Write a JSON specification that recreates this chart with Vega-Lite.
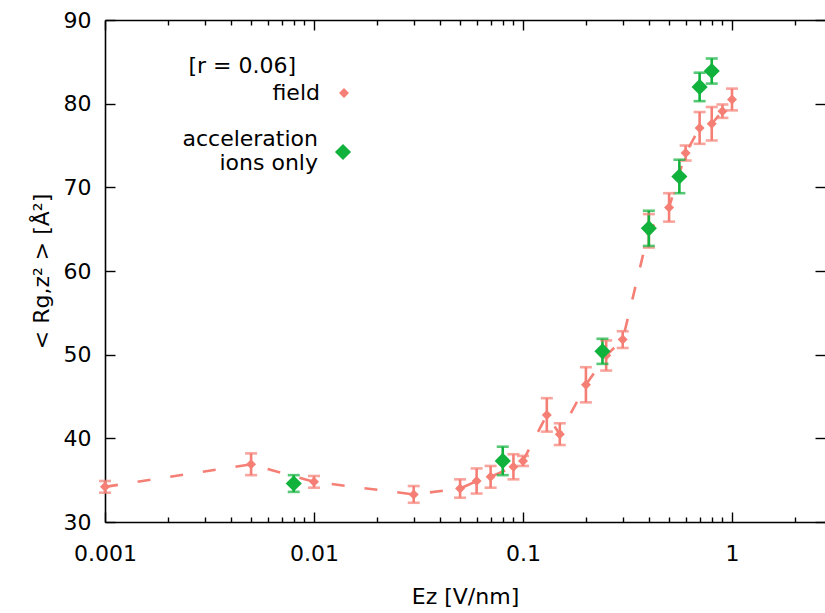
{
  "$schema": "https://vega.github.io/schema/vega-lite/v6.json",
  "width": 720,
  "height": 502,
  "autosize": "none",
  "padding": {"left": 105, "top": 20, "right": 0, "bottom": 91},
  "background": "white",
  "config": {
    "view": {"stroke": null},
    "font": "DejaVu Sans",
    "axis": {"labelFont": "DejaVu Sans", "titleFont": "DejaVu Sans", "labelFontSize": 22, "titleFontSize": 22, "titleFontWeight": "normal", "labelColor": "black", "titleColor": "black", "domainColor": "black", "tickColor": "black", "domainWidth": 1.6, "tickWidth": 1.4, "grid": false},
    "legend": {"labelFont": "DejaVu Sans", "titleFont": "DejaVu Sans", "padding": 0, "labelFontSize": 22, "titleFontSize": 22, "titleFontWeight": "normal", "labelColor": "black", "titleColor": "black", "symbolOpacity": 1, "symbolStrokeWidth": 0, "labelLimit": 0, "labelAlign": "right", "symbolType": "diamond"}
  },
  "data": {"values": [
    {"x": 0.001, "y": 34.2, "lo": 33.5, "hi": 34.9, "series": "field"},
    {"x": 0.005, "y": 36.9, "lo": 35.6, "hi": 38.2, "series": "field"},
    {"x": 0.01, "y": 34.8, "lo": 34.1, "hi": 35.5, "series": "field"},
    {"x": 0.03, "y": 33.3, "lo": 32.3, "hi": 34.3, "series": "field"},
    {"x": 0.05, "y": 34.0, "lo": 32.9, "hi": 35.1, "series": "field"},
    {"x": 0.06, "y": 34.9, "lo": 33.4, "hi": 36.4, "series": "field"},
    {"x": 0.07, "y": 35.4, "lo": 34.1, "hi": 36.7, "series": "field"},
    {"x": 0.09, "y": 36.6, "lo": 35.1, "hi": 38.1, "series": "field"},
    {"x": 0.1, "y": 37.3, "lo": 36.7, "hi": 37.9, "series": "field"},
    {"x": 0.13, "y": 42.8, "lo": 40.8, "hi": 44.8, "series": "field"},
    {"x": 0.15, "y": 40.5, "lo": 39.2, "hi": 41.8, "series": "field"},
    {"x": 0.2, "y": 46.4, "lo": 44.3, "hi": 48.5, "series": "field"},
    {"x": 0.25, "y": 49.9, "lo": 48.1, "hi": 51.7, "series": "field"},
    {"x": 0.3, "y": 51.8, "lo": 50.8, "hi": 52.8, "series": "field"},
    {"x": 0.4, "y": 64.8, "lo": 62.8, "hi": 66.8, "series": "field"},
    {"x": 0.5, "y": 67.6, "lo": 65.9, "hi": 69.3, "series": "field"},
    {"x": 0.6, "y": 74.1, "lo": 73.2, "hi": 75.0, "series": "field"},
    {"x": 0.7, "y": 77.1, "lo": 75.2, "hi": 79.0, "series": "field"},
    {"x": 0.8, "y": 77.6, "lo": 75.6, "hi": 79.6, "series": "field"},
    {"x": 0.9, "y": 79.1, "lo": 78.3, "hi": 79.9, "series": "field"},
    {"x": 1.0, "y": 80.5, "lo": 79.2, "hi": 81.8, "series": "field"},
    {"x": 0.008, "y": 34.6, "lo": 33.6, "hi": 35.6, "series": "acceleration ions only"},
    {"x": 0.08, "y": 37.3, "lo": 35.6, "hi": 39.0, "series": "acceleration ions only"},
    {"x": 0.24, "y": 50.4, "lo": 48.9, "hi": 51.9, "series": "acceleration ions only"},
    {"x": 0.4, "y": 65.1, "lo": 63.0, "hi": 67.2, "series": "acceleration ions only"},
    {"x": 0.56, "y": 71.3, "lo": 69.3, "hi": 73.3, "series": "acceleration ions only"},
    {"x": 0.7, "y": 82.0, "lo": 80.3, "hi": 83.7, "series": "acceleration ions only"},
    {"x": 0.8, "y": 83.9, "lo": 82.4, "hi": 85.4, "series": "acceleration ions only"}
  ]},
  "resolve": {"axis": {"x": "independent", "y": "independent"}, "scale": {"color": "independent"}, "legend": {"color": "independent"}},
  "layer": [
    {
      "transform": [{"filter": "datum.series == 'field'"}],
      "mark": {"type": "line", "color": "#f57f75", "strokeWidth": 2.6, "strokeDash": [13, 20]},
      "encoding": {
        "x": {"field": "x", "type": "quantitative",
          "scale": {"type": "log", "domain": [0.001, 2.786], "nice": false},
          "axis": {"orient": "bottom", "title": "Ez [V/nm]", "titlePadding": 17,
            "values": [0.001, 0.002, 0.003, 0.004, 0.005, 0.006, 0.007, 0.008, 0.009, 0.01, 0.02, 0.03, 0.04, 0.05, 0.06, 0.07, 0.08, 0.09, 0.1, 0.2, 0.3, 0.4, 0.5, 0.6, 0.7, 0.8, 0.9, 1, 2],
            "labelExpr": "abs(log(datum.value)/LN10 - round(log(datum.value)/LN10)) < 1e-6 ? format(datum.value, '~g') : ''",
            "tickSize": {"condition": {"test": "abs(log(datum.value)/LN10 - round(log(datum.value)/LN10)) < 1e-6", "value": -10}, "value": -5},
            "labelPadding": 31, "labelFlush": false, "labelOverlap": false}},
        "y": {"field": "y", "type": "quantitative",
          "scale": {"domain": [30, 90], "nice": false, "zero": false},
          "axis": {"orient": "left", "title": "< Rg,z² > [Å²]", "values": [30, 40, 50, 60, 70, 80, 90], "tickSize": -10, "labelPadding": 24, "titlePadding": 10}}
      }
    },
    {
      "mark": {"type": "rule", "strokeWidth": 2.6},
      "encoding": {
        "x": {"field": "x", "type": "quantitative",
          "axis": {"orient": "top", "title": null, "labels": false,
            "values": [0.001, 0.002, 0.003, 0.004, 0.005, 0.006, 0.007, 0.008, 0.009, 0.01, 0.02, 0.03, 0.04, 0.05, 0.06, 0.07, 0.08, 0.09, 0.1, 0.2, 0.3, 0.4, 0.5, 0.6, 0.7, 0.8, 0.9, 1, 2],
            "tickSize": {"condition": {"test": "abs(log(datum.value)/LN10 - round(log(datum.value)/LN10)) < 1e-6", "value": -10}, "value": -5}}},
        "y": {"field": "lo", "type": "quantitative",
          "axis": {"orient": "right", "title": null, "labels": false, "domain": false, "values": [30, 40, 50, 60, 70, 80, 90], "tickSize": -10}},
        "y2": {"field": "hi"},
        "color": {"field": "series", "type": "nominal", "legend": null,
          "scale": {"domain": ["field", "acceleration ions only"], "range": ["#f57f75", "#10b23c"]}}
      }
    },
    {
      "mark": {"type": "tick", "orient": "horizontal", "size": 12, "thickness": 2.6},
      "encoding": {
        "x": {"field": "x", "type": "quantitative", "axis": null},
        "y": {"field": "lo", "type": "quantitative", "axis": null},
        "color": {"field": "series", "type": "nominal", "legend": null,
          "scale": {"domain": ["field", "acceleration ions only"], "range": ["#f57f75", "#10b23c"]}}
      }
    },
    {
      "mark": {"type": "tick", "orient": "horizontal", "size": 12, "thickness": 2.6},
      "encoding": {
        "x": {"field": "x", "type": "quantitative", "axis": null},
        "y": {"field": "hi", "type": "quantitative", "axis": null},
        "color": {"field": "series", "type": "nominal", "legend": null,
          "scale": {"domain": ["field", "acceleration ions only"], "range": ["#f57f75", "#10b23c"]}}
      }
    },
    {
      "transform": [{"filter": "datum.series == 'field'"}],
      "mark": {"type": "point", "shape": "diamond", "filled": true, "opacity": 1, "size": 100},
      "encoding": {
        "x": {"field": "x", "type": "quantitative", "axis": null},
        "y": {"field": "y", "type": "quantitative", "axis": null},
        "color": {"field": "series", "type": "nominal",
          "scale": {"domain": ["field"], "range": ["#f57f75"]},
          "legend": {"title": "[r = 0.06]", "orient": "none", "legendX": 83, "legendY": 36,
            "labelOffset": -35, "symbolOffset": 37, "symbolSize": 100, "titleAnchor": "start", "titleAlign": "right", "titlePadding": 4}}
      }
    },
    {
      "transform": [{"filter": "datum.series != 'field'"}],
      "mark": {"type": "point", "shape": "diamond", "filled": true, "opacity": 1, "size": 260},
      "encoding": {
        "x": {"field": "x", "type": "quantitative", "axis": null},
        "y": {"field": "y", "type": "quantitative", "axis": null},
        "color": {"field": "series", "type": "nominal",
          "scale": {"domain": ["acceleration ions only"], "range": ["#10b23c"]},
          "legend": {"title": null, "orient": "none", "legendX": 227, "legendY": 121,
            "labelOffset": -36, "symbolSize": 260, "labelBaseline": "line-bottom",
            "labelExpr": "['acceleration', 'ions only']"}}
      }
    }
  ]
}
